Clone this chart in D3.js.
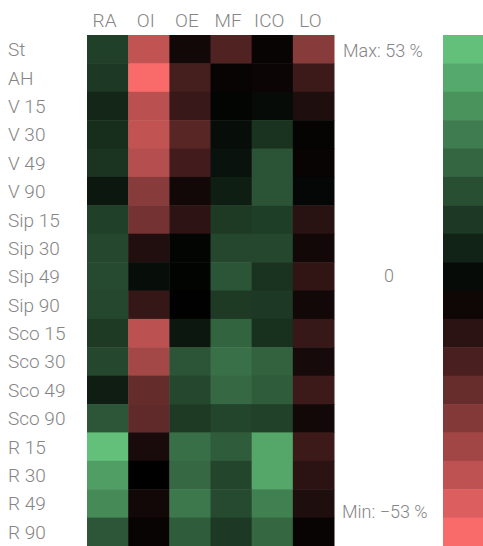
<!DOCTYPE html>
<html>
<head>
<meta charset="utf-8">
<script src="https://cdn.jsdelivr.net/npm/d3@7"></script>
<style>
  body { margin: 0; background: #fff; }
  text { font-family: Roboto, sans-serif; font-weight: 300; fill: #858585; }
</style>
</head>
<body>
<svg id="chart" width="483" height="546"></svg>
<script>
const columns = ['RA', 'OI', 'OE', 'MF', 'ICO', 'LO']
const rows = ['St', 'AH', 'V 15', 'V 30', 'V 49', 'V 90', 'Sip 15', 'Sip 30', 'Sip 49', 'Sip 90',
  'Sco 15', 'Sco 30', 'Sco 49', 'Sco 90', 'R 15', 'R 30', 'R 49', 'R 90']
// percent values, one array per row, in column order
const values = [
  [17.7, -41, -4, -17, -2, -29],
  [15.5, -53, -14.7, -2, -2.5, -13],
  [10.5, -39.6, -12, 1.5, 3, -6.7],
  [12.7, -41, -19, 4, 14, -1.3],
  [14.4, -38.5, -14, 5, 23, -2],
  [6.6, -29, -4, 8.3, 23, 2],
  [17.7, -25, -9.6, 16, 17, -8.8],
  [19.6, -7, 1.5, 19.6, 19.6, -4],
  [20.4, 4, 1, 23.5, 14, -10.5],
  [19.6, -11.3, -0.5, 16, 15.5, -4],
  [16, -40, 6.3, 27.6, 13.2, -11.7],
  [19.6, -35, 23.5, 31, 27, -4.8],
  [8, -21.6, 19.6, 29, 25.4, -12.8],
  [23.7, -20.7, 16, 19, 18, -4],
  [53, -5.4, 30.6, 25.4, 45.8, -12.8],
  [43.6, 0, 29, 19, 45.8, -9.2],
  [38, -4, 33, 20.4, 35.3, -6.7],
  [23.7, -2, 25.4, 15.5, 28.4, -2]
]
const maxVal = 53
const minVal = -53
const legendSteps = 18

const svg = d3.select('#chart')
const x = d3.scaleBand().domain(columns).range([87, 334])
const y = d3.scaleBand().domain(rows).range([35, 546])
const color = d3.scaleLinear().domain([minVal, 0, maxVal]).range(['#f96b6b', '#000000', '#62c07a'])

const cells = rows.flatMap((r, i) => columns.map((c, j) => ({row: r, col: c, v: values[i][j]})))
svg.append('g').selectAll('rect').data(cells).join('rect')
  .attr('x', d => x(d.col)).attr('y', d => y(d.row))
  .attr('width', x.bandwidth() + 0.5).attr('height', y.bandwidth() + 0.5)
  .attr('fill', d => color(d.v))

svg.append('g').selectAll('text').data(columns).join('text')
  .attr('x', d => x(d) + x.bandwidth() / 2 - 3).attr('y', 27)
  .attr('text-anchor', 'middle').attr('font-size', 19)
  .text(d => d)

svg.append('g').selectAll('text').data(rows).join('text')
  .attr('x', 8).attr('y', d => y(d) + y.bandwidth() / 2 + 7)
  .attr('font-size', 19)
  .text(d => d)

// legend
const legendVals = d3.range(legendSteps).map(i => maxVal - i * (maxVal - minVal) / (legendSteps - 1))
const ly = d3.scaleBand().domain(d3.range(legendSteps)).range([35, 546])
svg.append('g').selectAll('rect').data(legendVals).join('rect')
  .attr('x', 443).attr('y', (d, i) => ly(i))
  .attr('width', 40).attr('height', ly.bandwidth() + 0.5)
  .attr('fill', d => color(d))

svg.append('text').attr('x', 343).attr('y', 57).attr('font-size', 18).text(`Max: ${maxVal} %`)
svg.append('text').attr('x', 389).attr('y', 282).attr('font-size', 18).attr('text-anchor', 'middle').text('0')
svg.append('text').attr('x', 342).attr('y', 518).attr('font-size', 18).text(`Min: \u2212${Math.abs(minVal)} %`)
</script>
</body>
</html>
